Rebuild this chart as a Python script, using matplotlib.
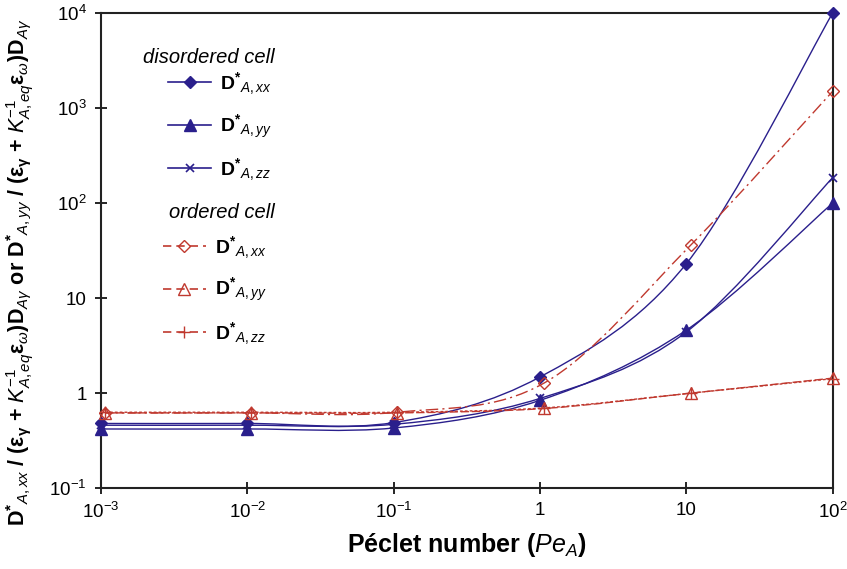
import matplotlib
matplotlib.use("Agg")
import matplotlib.pyplot as plt
import numpy as np
from matplotlib.lines import Line2D
from matplotlib.patches import PathPatch
from matplotlib.path import Path
from matplotlib.ticker import FixedLocator, FixedFormatter, NullLocator

plt.rcParams["font.family"] = ["Liberation Sans", "DejaVu Sans"]
plt.rcParams["mathtext.fontset"] = "custom"
plt.rcParams["mathtext.rm"] = "Liberation Sans"
plt.rcParams["mathtext.it"] = "Liberation Sans:italic"
plt.rcParams["mathtext.bf"] = "Liberation Sans:bold"

# Peclet numbers
pe_disordered = [1e-3, 1e-2, 1e-1, 1.0, 10.0, 100.0]
pe_ordered = [1.07e-3, 1.06e-2, 1.06e-1, 1.07, 10.7, 100.0]

# disordered cell
dis_xx = [0.48, 0.48, 0.49, 1.48, 23.0, 10000.0]
dis_yy = [0.42, 0.42, 0.43, 0.84, 4.6, 100.0]
dis_zz = [0.46, 0.46, 0.47, 0.88, 4.4, 185.0]

# ordered cell
ord_xx = [0.62, 0.62, 0.63, 1.28, 36.0, 1500.0]
ord_yy = [0.62, 0.62, 0.62, 0.69, 1.0, 1.44]
ord_zz = [0.63, 0.63, 0.63, 0.70, 1.0, 1.42]

xticks = [1e-3, 1e-2, 1e-1, 1, 10, 100]
xticklabels = [r"$10^{-3}$", r"$10^{-2}$", r"$10^{-1}$", "1", "10", r"$10^{2}$"]
yticks = [1e-1, 1, 10, 100, 1e3, 1e4]
yticklabels = [r"$10^{-1}$", "1", "10", r"$10^{2}$", r"$10^{3}$", r"$10^{4}$"]

BLUE = "#2a1f8c"
RED = "#c0392f"


def smooth_path(x, y):
    # Excel-like smoothed line: Bezier segments built in log-log space
    lx = np.log10(x)
    ly = np.log10(y)
    pts = np.column_stack([lx, ly])
    n = len(pts)
    verts = [pts[0]]
    codes = [Path.MOVETO]
    for i in range(n - 1):
        p0 = pts[max(i - 1, 0)]
        p1 = pts[i]
        p2 = pts[i + 1]
        p3 = pts[min(i + 2, n - 1)]
        c1 = p1 + (p2 - p0) / 6.0
        c2 = p2 - (p3 - p1) / 6.0
        verts += [c1, c2, p2]
        codes += [Path.CURVE4] * 3
    verts = 10 ** np.array(verts)
    return Path(verts, codes)


fig = plt.figure(figsize=(8.47, 5.69), dpi=100)
ax = fig.add_axes([0.119, 0.142, 0.864, 0.835])
ax.set_xscale("log")
ax.set_yscale("log")

series = [
    (pe_disordered, dis_xx, BLUE, "-", dict(marker="D", ms=6, mfc=BLUE, mec=BLUE)),
    (pe_disordered, dis_yy, BLUE, "-", dict(marker="^", ms=8, mfc=BLUE, mec=BLUE)),
    (pe_disordered, dis_zz, BLUE, "-", dict(marker="x", ms=6, mec=BLUE, mew=1.2)),
    (pe_ordered, ord_xx, RED, (0, (9, 3, 1.5, 3)), dict(marker="D", ms=6, mfc="none", mec=RED, mew=1.0)),
    (pe_ordered, ord_yy, RED, (0, (6, 2)), dict(marker="^", ms=8, mfc="none", mec=RED, mew=1.0)),
    (pe_ordered, ord_zz, RED, (0, (2, 1.5)), dict(marker="+", ms=8, mec=RED, mew=1.0)),
]

handles = []
for x, y, color, ls, mk in series:
    patch = PathPatch(smooth_path(x, y), facecolor="none", edgecolor=color,
                      linewidth=1.0, linestyle=ls, zorder=2)
    ax.add_patch(patch)
    ax.plot(x, y, linestyle="none", zorder=3, clip_on=False, **mk)
    legend_ls = "-" if ls == "-" else (0, (5, 3))
    handles.append(Line2D([], [], color=color, linestyle=legend_ls, linewidth=1.2, **mk))

ax.set_xlim(1e-3, 100)
ax.set_ylim(1e-1, 1e4)
ax.xaxis.set_major_locator(FixedLocator(xticks))
ax.xaxis.set_major_formatter(FixedFormatter(xticklabels))
ax.yaxis.set_major_locator(FixedLocator(yticks))
ax.yaxis.set_major_formatter(FixedFormatter(yticklabels))
ax.xaxis.set_minor_locator(NullLocator())
ax.yaxis.set_minor_locator(NullLocator())
ax.tick_params(direction="inout", length=8, width=1.2, labelsize=13.5, pad=6)

for sp in ax.spines.values():
    sp.set_linewidth(1.5)
    sp.set_color("#222222")

ax.set_xlabel(r"Péclet number ($\mathit{Pe}_{A}$)", fontsize=18, fontweight="bold", labelpad=6)
ylab = (r"$\mathbf{D^{*}}_{A,xx}$ $\mathbf{/}$ $\mathbf{(\varepsilon_{\gamma}}$ + $\mathit{K}^{-1}_{A,eq}\mathbf{\varepsilon}_{\omega}$)D$_{A\gamma}$"
        r" or $\mathbf{D^{*}}_{A,yy}$ $\mathbf{/}$ $\mathbf{(\varepsilon_{\gamma}}$ + $\mathit{K}^{-1}_{A,eq}\mathbf{\varepsilon}_{\omega}$)D$_{A\gamma}$")
ax.set_ylabel(ylab, fontsize=15.5, fontweight="bold")
ax.yaxis.set_label_coords(-0.088, 0.455)

labels = [r"$\mathbf{D^{*}}_{A,xx}$", r"$\mathbf{D^{*}}_{A,yy}$", r"$\mathbf{D^{*}}_{A,zz}$"]
leg_kw = dict(frameon=False, fontsize=14, handlelength=2.2, handletextpad=0.45,
              labelspacing=0.8, loc="upper left", borderpad=0, borderaxespad=0)
leg1 = ax.legend(handles[:3], labels, bbox_to_anchor=(0.092, 0.88), **leg_kw)
ax.add_artist(leg1)
leg2 = ax.legend(handles[3:], labels, bbox_to_anchor=(0.085, 0.535), **leg_kw)

ax.text(0.238, 0.907, "disordered cell", transform=ax.transAxes, ha="right",
        va="center", fontsize=14.5, fontstyle="italic")
ax.text(0.238, 0.581, "ordered cell", transform=ax.transAxes, ha="right",
        va="center", fontsize=14.5, fontstyle="italic")

fig.savefig("out.png", dpi=100)
